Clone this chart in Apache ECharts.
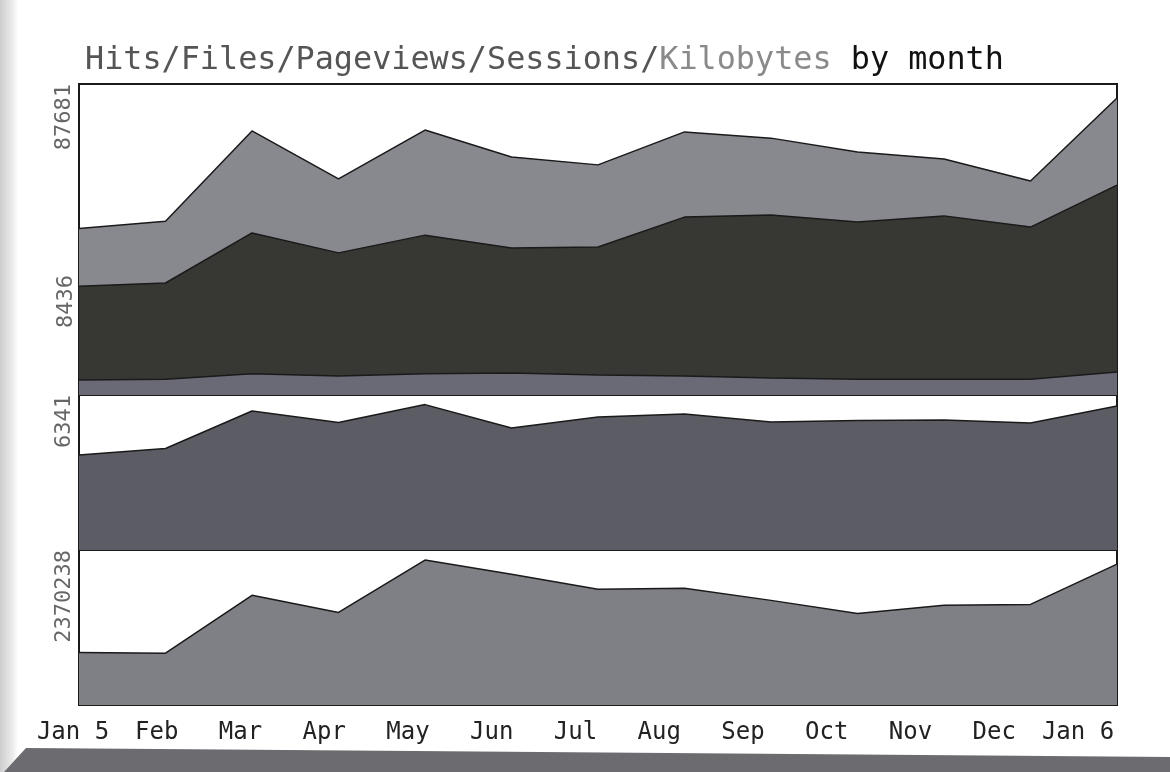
<!DOCTYPE html>
<html>
<head>
<meta charset="utf-8">
<script src="https://cdn.jsdelivr.net/npm/echarts@6/dist/echarts.min.js"></script>
<style>
  html, body { margin: 0; padding: 0; background: #fff; }
  #wrap { position: relative; width: 1170px; height: 772px; overflow: hidden; background: #fff; }
  #edge { position: absolute; left: 0; top: 0; width: 18px; height: 772px;
          background: linear-gradient(to right, #cdcdcf, #ececec 70%, #fff); }
  #shadow { position: absolute; left: 0; top: 0; width: 1170px; height: 772px;
            background: #6c6c70; clip-path: polygon(26px 748px, 1170px 757px, 1170px 772px, 4px 772px); }
  #chart { position: absolute; left: 0; top: 0; width: 1170px; height: 772px; }
</style>
</head>
<body>
<div id="wrap">
  <div id="edge"></div>
  <div id="shadow"></div>
  <div id="chart"></div>
</div>
<script>
// months along the bottom
const months = ['Jan 5', 'Feb', 'Mar', 'Apr', 'May', 'Jun', 'Jul', 'Aug', 'Sep', 'Oct', 'Nov', 'Dec', 'Jan 6'];

// top panel
const hits      = [46910, 49010, 74440, 60940, 74700, 67080, 64880, 74180, 72420, 68480, 66550, 60320, 83730];
const files     = [30690, 31570, 45680, 40070, 45070, 41470, 41740, 50150, 50770, 48750, 50500, 47350, 59190];
const pageviews = [4210, 4470, 5960, 5350, 5960, 6230, 5610, 5350, 4820, 4470, 4470, 4470, 6490];
// middle panel
const sessions  = [3887, 4153, 5688, 5219, 5948, 4990, 5441, 5561, 5238, 5295, 5320, 5193, 5891];
// bottom panel
const kilobytes = [801100, 791700, 1678100, 1415000, 2216200, 2000500, 1770600, 1784800, 1599900, 1400800, 1524100, 1538300, 2154500];

// scale labels printed at the left
const hitsMax = 87681;
const filesLabel = 8436;
const sessionsMax = 6341;
const kbMax = 2370238;

const mono = 'DejaVu Sans Mono';
const edge = '#1a1a1a';

const chart = echarts.init(document.getElementById('chart'));

function panelY(idx, max) {
  return {
    type: 'value', gridIndex: idx, min: 0, max: max,
    splitLine: { show: false },
    axisLine: { show: false },
    axisTick: { show: false },
    axisLabel: {
      customValues: [max],
      formatter: (v) => String(v),
      rotate: 90,
      align: 'right',
      margin: 4,
      color: '#666',
      fontFamily: mono,
      fontSize: 22
    }
  };
}

function panelX(idx) {
  return {
    type: 'category', gridIndex: idx, data: months, boundaryGap: false,
    axisLine: { show: false }, axisTick: { show: false }, axisLabel: { show: false },
    splitLine: { show: false }
  };
}

function area(name, data, color, idx) {
  return {
    name: name, type: 'line', data: data,
    xAxisIndex: idx, yAxisIndex: idx,
    symbol: 'none', silent: true,
    lineStyle: { color: edge, width: 1.5 },
    areaStyle: { color: color, opacity: 1 }
  };
}

const gridBox = { show: true, backgroundColor: '#fff', borderColor: edge, borderWidth: 2 };

chart.setOption({
  animation: false,
  backgroundColor: 'transparent',
  title: {
    left: 80, top: 40,
    text: '{a|Hits/Files/Pageviews/Sessions/}{b|Kilobytes}{c| by month}',
    textStyle: {
      fontFamily: mono, fontSize: 31.8, fontWeight: 'normal',
      rich: {
        a: { fontFamily: mono, fontSize: 31.8, fontWeight: 'normal', color: '#555' },
        b: { fontFamily: mono, fontSize: 31.8, fontWeight: 'normal', color: '#8a8a8a' },
        c: { fontFamily: mono, fontSize: 31.8, fontWeight: 'normal', color: '#111' }
      }
    }
  },
  grid: [
    Object.assign({ left: 79, width: 1038, top: 84, height: 311 }, gridBox),
    Object.assign({ left: 79, width: 1038, top: 395, height: 155 }, gridBox),
    Object.assign({ left: 79, width: 1038, top: 550, height: 155 }, gridBox),
    { left: 73, width: 1005, top: 707, height: 2, show: false }
  ],
  xAxis: [
    panelX(0), panelX(1), panelX(2),
    {
      type: 'category', gridIndex: 3, data: months, boundaryGap: false,
      axisLine: { show: false }, axisTick: { show: false },
      axisLabel: { margin: 12, color: '#222', fontFamily: mono, fontSize: 24, interval: 0 }
    }
  ],
  yAxis: [
    panelY(0, hitsMax), panelY(1, sessionsMax), panelY(2, kbMax),
    { type: 'value', gridIndex: 3, show: false }
  ],
  graphic: [
    {
      type: 'text', x: 66, y: 275, rotation: Math.PI / 2,
      style: {
        text: String(filesLabel), fill: '#666', font: '22px "DejaVu Sans Mono"',
        textAlign: 'right', textVerticalAlign: 'middle'
      }
    }
  ],
  series: [
    area('Hits', hits, '#88888f', 0),
    area('Files', files, '#373834', 0),
    area('Pageviews', pageviews, '#6a6a77', 0),
    area('Sessions', sessions, '#5c5d64', 1),
    area('Kilobytes', kilobytes, '#7f7f86', 2)
  ]
});
</script>
</body>
</html>
